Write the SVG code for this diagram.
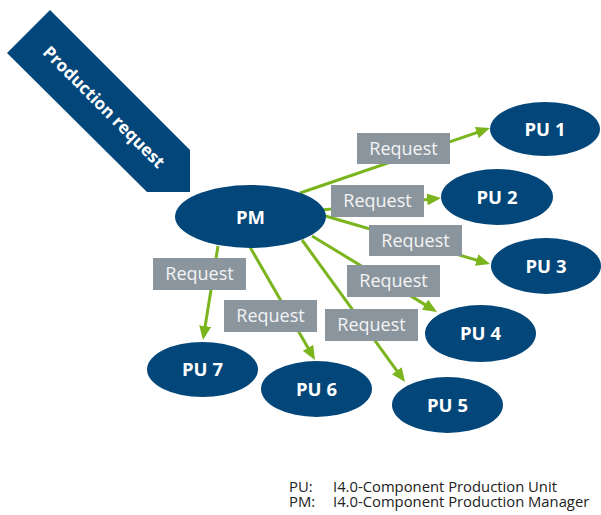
<svg xmlns="http://www.w3.org/2000/svg" width="601" height="515" viewBox="0 0 601 515">
<style>
.node ellipse{fill:#02467a}
.node text{fill:#fff;font-family:"Open Sans","Noto Sans",sans-serif;font-weight:bold;font-size:18.5px;text-anchor:middle}
.conn line{stroke:#7ab51d;stroke-width:3;fill:none;marker-end:url(#ah)}
.lbl rect{fill:#8a959e}
.lbl text{fill:#f4f4f4;font-family:"Open Sans","Noto Sans",sans-serif;font-size:18px;text-anchor:middle}
.legend{font-family:"Open Sans","Noto Sans",sans-serif;font-size:14.8px;fill:#222}
</style>
<defs>
<marker id="ah" viewBox="0 0 14 12" refX="10" refY="6" markerWidth="14" markerHeight="12" markerUnits="userSpaceOnUse" orient="auto">
<path d="M0,0 L14,6 L0,12 z" fill="#7ab51d"/>
</marker>
</defs>
<g id="production-request">
<polygon points="50,10 190,150 190,192 147,192 7,53" fill="#02467a"/>
<text transform="translate(104,107) rotate(45)" x="0" y="6" fill="#fff" font-family="'Open Sans','Noto Sans',sans-serif" font-weight="bold" font-size="17" text-anchor="middle">Production request</text>
</g>
<g id="connectors" class="conn">
<line x1="300" y1="193" x2="486.2" y2="129.3"/>
<line x1="322" y1="210" x2="437" y2="198.4"/>
<line x1="322" y1="215" x2="486.2" y2="262.9"/>
<line x1="312" y1="236" x2="433.6" y2="309.9"/>
<line x1="302" y1="240" x2="402.7" y2="378.8"/>
<line x1="250" y1="247" x2="313" y2="356.5"/>
<line x1="218" y1="246" x2="203.6" y2="336"/>
<g class="lbl">
<rect x="357" y="133" width="93" height="31"/><text x="403.5" y="154.5">Request</text>
<rect x="331" y="185" width="93" height="32"/><text x="377.5" y="207">Request</text>
<rect x="369" y="225" width="93" height="31"/><text x="415.5" y="246.5">Request</text>
<rect x="347" y="265" width="93" height="32"/><text x="393.5" y="287">Request</text>
<rect x="325" y="309" width="93" height="32"/><text x="371.5" y="331">Request</text>
<rect x="224" y="300" width="93" height="32"/><text x="270.5" y="322">Request</text>
<rect x="153" y="258" width="93" height="32"/><text x="199.5" y="280">Request</text>
</g>
</g>
<g id="PM" class="node"><ellipse cx="250.5" cy="216.5" rx="75.5" ry="31.5"/><text x="250.5" y="223.5" font-size="20">PM</text></g>
<g id="PU1" class="node"><ellipse cx="545" cy="129" rx="55" ry="27"/><text x="545" y="135.5">PU 1</text></g>
<g id="PU2" class="node"><ellipse cx="497" cy="197" rx="56" ry="28"/><text x="497" y="203.5">PU 2</text></g>
<g id="PU3" class="node"><ellipse cx="546" cy="266" rx="55" ry="28"/><text x="546" y="272.5">PU 3</text></g>
<g id="PU4" class="node"><ellipse cx="480.5" cy="333.5" rx="55.5" ry="28.5"/><text x="480.5" y="340">PU 4</text></g>
<g id="PU5" class="node"><ellipse cx="447.5" cy="405" rx="55.5" ry="28"/><text x="447.5" y="411.5">PU 5</text></g>
<g id="PU6" class="node"><ellipse cx="316.5" cy="389" rx="55.5" ry="28"/><text x="316.5" y="395.5">PU 6</text></g>
<g id="PU7" class="node"><ellipse cx="202.5" cy="369.5" rx="55.5" ry="27.5"/><text x="202.5" y="376">PU 7</text></g>
<g id="legend" class="legend">
<text x="289" y="491.5">PU:</text><text x="333" y="491.5">I4.0-Component Production Unit</text>
<text x="289" y="506.5">PM:</text><text x="333" y="506.5">I4.0-Component Production Manager</text>
</g>
</svg>
